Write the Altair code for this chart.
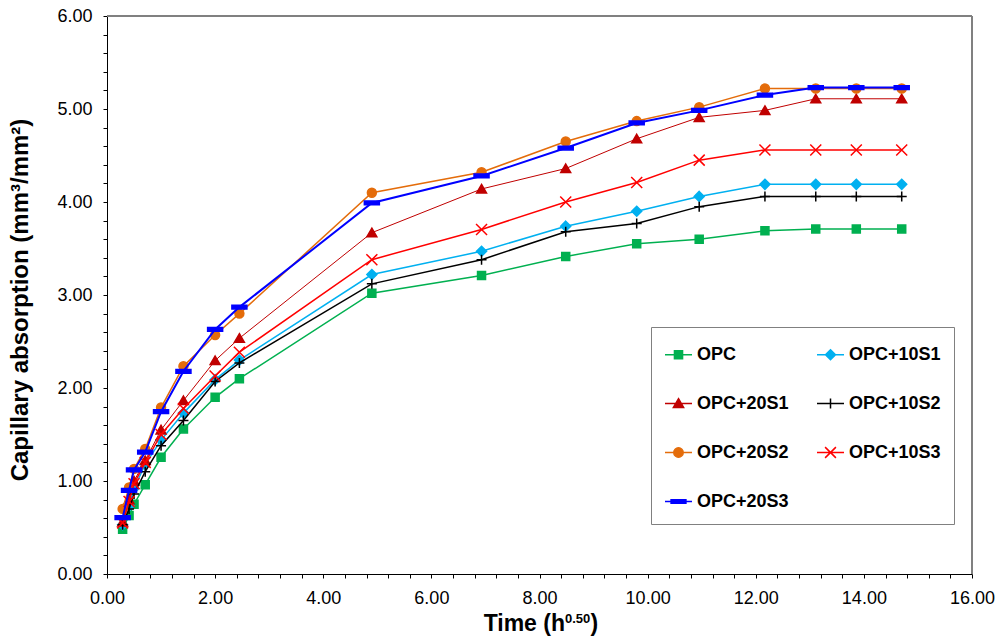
import altair as alt
import pandas as pd

# sqrt(time) in h^0.5
time_sqrt = [0.289, 0.408, 0.5, 0.707, 1.0, 1.414, 2.0, 2.449, 4.899, 6.928,
             8.485, 9.798, 10.954, 12.17, 13.11, 13.86, 14.70]

series_names = ["OPC", "OPC+10S1", "OPC+20S1", "OPC+10S2", "OPC+20S2", "OPC+10S3", "OPC+20S3"]

opc      = [0.48, 0.63, 0.75, 0.96, 1.255, 1.56, 1.90, 2.10, 3.02, 3.21, 3.415, 3.55, 3.60, 3.69, 3.71, 3.71, 3.71]
opc_10s1 = [0.53, 0.73, 0.92, 1.18, 1.44, 1.73, 2.09, 2.30, 3.22, 3.47, 3.74, 3.90, 4.06, 4.19, 4.19, 4.19, 4.19]
opc_20s1 = [0.56, 0.80, 1.00, 1.22, 1.55, 1.865, 2.295, 2.535, 3.67, 4.14, 4.36, 4.68, 4.91, 4.985, 5.11, 5.11, 5.11]
opc_10s2 = [0.53, 0.70, 0.86, 1.10, 1.38, 1.65, 2.07, 2.27, 3.12, 3.38, 3.68, 3.77, 3.95, 4.06, 4.06, 4.06, 4.06]
opc_20s2 = [0.70, 0.93, 1.13, 1.345, 1.79, 2.235, 2.57, 2.80, 4.10, 4.32, 4.65, 4.87, 5.02, 5.22, 5.22, 5.22, 5.22]
opc_10s3 = [0.55, 0.78, 0.97, 1.20, 1.50, 1.78, 2.13, 2.385, 3.38, 3.705, 4.00, 4.21, 4.45, 4.56, 4.56, 4.56, 4.56]
opc_20s3 = [0.605, 0.90, 1.12, 1.31, 1.745, 2.18, 2.63, 2.87, 3.99, 4.28, 4.58, 4.85, 4.985, 5.15, 5.23, 5.23, 5.23]

series_values = [opc, opc_10s1, opc_20s1, opc_10s2, opc_20s2, opc_10s3, opc_20s3]

colors = ["#00B050", "#00B0F0", "#C00000", "#000000", "#E46C0A", "#FF0000", "#0000FF"]
line_widths = [1.5, 1.5, 1.0, 1.5, 1.5, 1.5, 2.0]
marker_paths = [
    "M-1,-1H1V1H-1Z",              # square
    "M0,-1L1,0L0,1L-1,0Z",         # diamond
    "M0,-1L1.1,0.9H-1.1Z",         # triangle
    "M-1,0H1M0,-1V1",              # plus
    "circle",                      # circle
    "M-1,-1L1,1M-1,1L1,-1",        # x
    "M-1,-0.25H1V0.25H-1Z",        # dash
]
marker_sizes = [64, 100, 81, 100, 80, 121, 225]
legend_paths = [
    "M-1,0H1M-0.3,-0.3H0.3V0.3H-0.3Z",
    "M-1,0H1M0,-0.37L0.37,0L0,0.37L-0.37,0Z",
    "M-1,0H1M0,-0.36L0.38,0.3H-0.38Z",
    "M-1,0H1M0,-0.37V0.37",
    "M-1,0H1M0.35,0A0.35,0.35 0 1,1 -0.35,0A0.35,0.35 0 1,1 0.35,0Z",
    "M-1,0H1M-0.4,-0.4L0.4,0.4M-0.4,0.4L0.4,-0.4",
    "M-1,0H1M-0.55,-0.13H0.55V0.13H-0.55Z",
]
# legend fills column by column (4 rows): order so rows read OPC | OPC+10S1, ...
legend_order = ["OPC", "OPC+20S1", "OPC+20S2", "OPC+20S3", "OPC+10S1", "OPC+10S2", "OPC+10S3"]

rows = []
for name, vals in zip(series_names, series_values):
    for t, v in zip(time_sqrt, vals):
        rows.append({"series": name, "t": t, "v": v})
df = pd.DataFrame(rows)

idx = {n: i for i, n in enumerate(series_names)}
leg_colors = [colors[idx[n]] for n in legend_order]
leg_shapes = [legend_paths[idx[n]] for n in legend_order]

W, H = 865, 558
FONT = "Liberation Sans"

xscale = alt.Scale(domain=[0, 16], nice=False, zero=True)
yscale = alt.Scale(domain=[0, 6], nice=False, zero=True)

x_ticks = [round(i * 0.4, 1) for i in range(41)]
y_ticks = [round(i * 0.2, 1) for i in range(31)]

x_axis = alt.Axis(
    values=x_ticks,
    labelExpr="abs(datum.value/2 - round(datum.value/2)) < 0.001 ? format(datum.value, '.2f') : ''",
    title=None, grid=False, tickSize=4, tickColor="black", domainColor="black",
    labelFlush=False, labelOverlap=False, labelPadding=11, labelFontSize=18,
    labelFont=FONT, labelColor="black",
)
y_axis = alt.Axis(
    values=y_ticks,
    labelExpr="abs(datum.value - round(datum.value)) < 0.001 ? format(datum.value, '.2f') : ''",
    title=None, grid=False, tickSize=4, tickColor="black", domainColor="black",
    labelFlush=False, labelOverlap=False, labelPadding=11, labelFontSize=18,
    labelFont=FONT, labelColor="black",
)

base = alt.Chart(df)
layers = []

# frame (top and right)
layers.append(alt.Chart(df).mark_rule(color="#808080", strokeWidth=2).encode(
    x=alt.value(0), x2=alt.value(W), y=alt.value(0)))
layers.append(alt.Chart(df).mark_rule(color="#808080", strokeWidth=2).encode(
    x=alt.value(W), y=alt.value(0), y2=alt.value(H)))

for name, color, lw, shp, sz in zip(series_names, colors, line_widths, marker_paths, marker_sizes):
    sub = base.transform_filter(alt.datum.series == name)
    layers.append(sub.mark_line(color=color, strokeWidth=lw).encode(
        x=alt.X("t:Q", scale=xscale, axis=x_axis),
        y=alt.Y("v:Q", scale=yscale, axis=y_axis),
    ))
    layers.append(sub.mark_point(shape=shp, size=sz, filled=True, fill=color, stroke=color,
                                 strokeWidth=1.5, opacity=1).encode(
        x=alt.X("t:Q", scale=xscale, axis=x_axis),
        y=alt.Y("v:Q", scale=yscale, axis=y_axis),
    ))

leg = alt.Legend(title=None, orient="none", legendX=544, legendY=311, columns=2,
                 columnPadding=25, rowPadding=25, padding=13, symbolSize=729,
                 symbolStrokeWidth=1.5, labelFontSize=18, labelFont=FONT, labelFontWeight="bold",
                 labelColor="black", labelOffset=4, labelLimit=400, fillColor="white",
                 strokeColor="#808080", symbolOpacity=1)

legend_layer = base.transform_filter("false").mark_point(filled=True, strokeWidth=1.5, opacity=1).encode(
    shape=alt.Shape("series:N", scale=alt.Scale(domain=legend_order, range=leg_shapes), legend=leg),
    fill=alt.Fill("series:N", scale=alt.Scale(domain=legend_order, range=leg_colors), legend=leg),
    stroke=alt.Stroke("series:N", scale=alt.Scale(domain=legend_order, range=leg_colors), legend=leg),
)
layers.append(legend_layer)

# axis titles as text
title_df = pd.DataFrame({"a": [0]})
layers.append(alt.Chart(title_df).mark_text(text="Time (h", align="right", baseline="alphabetic",
                                             font=FONT, fontSize=23, fontWeight="bold", color="black").encode(
    x=alt.value(458), y=alt.value(615)))
layers.append(alt.Chart(title_df).mark_text(text="0.50", align="left", baseline="alphabetic",
                                             font=FONT, fontSize=13, fontWeight="bold", color="black").encode(
    x=alt.value(458), y=alt.value(607)))
layers.append(alt.Chart(title_df).mark_text(text=")", align="left", baseline="alphabetic",
                                             font=FONT, fontSize=23, fontWeight="bold", color="black").encode(
    x=alt.value(483.5), y=alt.value(615)))
layers.append(alt.Chart(title_df).mark_text(text="Capillary absorption (mm³/mm²)", align="center",
                                             baseline="middle", angle=270,
                                             font=FONT, fontSize=24, fontWeight="bold", color="black").encode(
    x=alt.value(-86), y=alt.value(284)))

chart = alt.layer(*layers).properties(
    width=W, height=H,
    autosize=alt.AutoSizeParams(type="none"),
    padding={"left": 107, "top": 16, "right": 29, "bottom": 68},
    background="white",
).configure_view(strokeWidth=0)

chart.save("out.html", embed_options={"renderer": "svg", "actions": False})
